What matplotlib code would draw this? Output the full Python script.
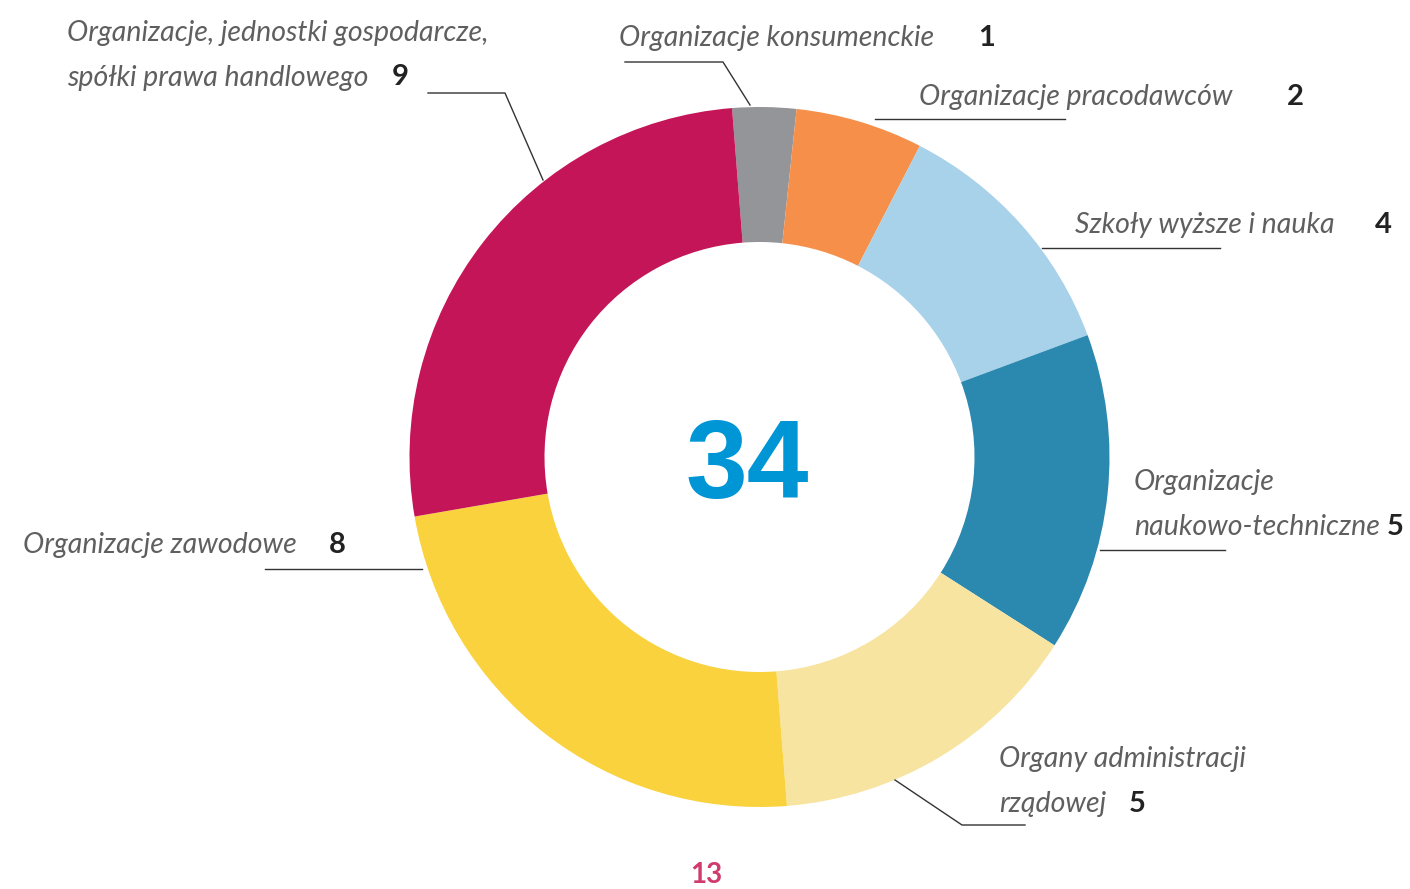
import matplotlib
matplotlib.use("Agg")
import matplotlib.pyplot as plt

# dane
kategorie = ["Organizacje konsumenckie", "Organizacje pracodawców", "Szkoły wyższe i nauka",
             "Organizacje naukowo-techniczne", "Organy administracji rządowej",
             "Organizacje zawodowe", "Organizacje, jednostki gospodarcze, spółki prawa handlowego"]
wartosci = [1, 2, 4, 5, 5, 8, 9]
kolory = ["#939598", "#f58f4a", "#a8d1ea", "#2b88af", "#f7e4a0", "#f9d23e", "#c31557"]
suma = sum(wartosci)
strona = 13

W, H = 1410, 889
fig = plt.figure(figsize=(W / 100, H / 100), dpi=100)
ax = fig.add_axes([0, 0, 1, 1])
ax.set_xlim(0, W)
ax.set_ylim(0, H)
ax.set_aspect("equal")
ax.axis("off")

def Y(y):  # współrzędne pikselowe od góry
    return H - y

ax.pie(wartosci, colors=kolory, startangle=94.5, counterclock=False,
       center=(759.5, Y(457)), radius=350, wedgeprops=dict(width=135, edgecolor="none"))
ax.set_xlim(0, W)
ax.set_ylim(0, H)

ax.text(747, Y(469), str(suma), fontsize=80, fontweight="bold", family="Liberation Sans",
        color="#0096d6", ha="center", va="center")
ax.text(706, Y(875), str(strona), fontsize=20, fontweight="bold", family="Lato",
        color="#d03a6c", ha="center", va="center")

lab = dict(fontsize=20.5, family="Lato", style="italic", fontweight="normal", color="#5f5f5f", va="center")
num = dict(fontsize=21, family="Lato", fontweight="bold", color="#222222", va="center", ha="center")

# etykiety: (linie tekstu, pozycje), pozycja liczby
etykiety = [
    ([("Organizacje konsumenckie", 619, 38)], (987, 38)),
    ([("Organizacje pracodawców", 919, 97)], (1295, 97)),
    ([("Szkoły wyższe i nauka", 1075, 225)], (1383, 225)),
    ([("Organizacje", 1134, 482), ("naukowo-techniczne", 1134, 527)], (1395, 527)),
    ([("Organy administracji", 999, 759), ("rządowej", 999, 804)], (1137, 804)),
    ([("Organizacje zawodowe", 23, 545)], (337, 545)),
    ([("Organizacje, jednostki gospodarcze,", 67, 33), ("spółki prawa handlowego", 67, 78)], (400, 77)),
]
for (linie, (nx, ny)), v in zip(etykiety, wartosci):
    for t, x, y in linie:
        ax.text(x, Y(y), t, **lab)
    ax.text(nx, Y(ny), str(v), **num)

# linie odniesienia
linie_odn = [
    ([750, 723, 625], [105, 62, 62]),
    ([875, 1065], [119, 119]),
    ([1042, 1220], [248, 248]),
    ([1100, 1225], [550, 550]),
    ([895, 962, 1025], [780, 825, 825]),
    ([422, 265], [569, 569]),
    ([543, 505, 428], [180, 93, 93]),
]
for xs, ys in linie_odn:
    ax.plot(xs, [Y(y) for y in ys], color="#333333", lw=1)

fig.savefig("out.png", dpi=100)
